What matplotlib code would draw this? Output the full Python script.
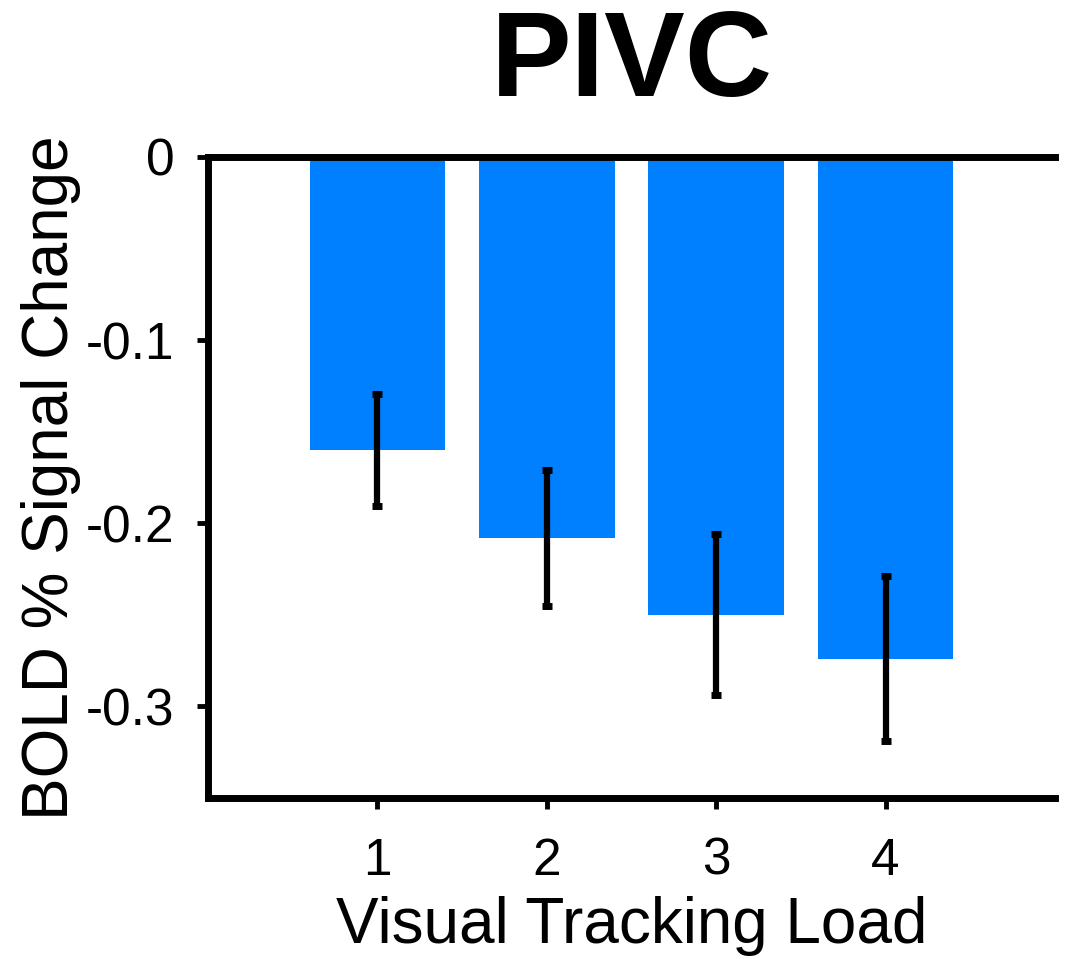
import matplotlib
matplotlib.use("Agg")
import matplotlib.pyplot as plt

# Mean BOLD response per tracking load, with error bars
loads = [1, 2, 3, 4]
tick_labels = ["1", "2", "3", "4"]
means = [-0.160, -0.208, -0.250, -0.274]
errors = [0.0305, 0.037, 0.044, 0.045]
yticks = [0, -0.1, -0.2, -0.3]
ytick_labels = ["0", "-0.1", "-0.2", "-0.3"]

plt.rcParams["font.family"] = ["Liberation Sans", "DejaVu Sans"]

fig = plt.figure(figsize=(10.68, 9.59), dpi=100)
ax = fig.add_axes([0.1948, 0.1679, 0.7930, 0.6684])

ax.bar(loads, means, width=0.8, color="#007FFF", zorder=1)
ax.errorbar(loads, means, yerr=errors, fmt="none", ecolor="black",
            elinewidth=4.5, capsize=3.3, capthick=5, zorder=3)

ax.set_xlim(0, 5)
ax.set_ylim(-0.35, 0)
ax.set_xticks(loads)
ax.set_xticklabels(tick_labels)
ax.set_yticks(yticks)
ax.set_yticklabels(ytick_labels)

for side in ("left", "bottom", "top"):
    ax.spines[side].set_linewidth(5)
ax.spines["right"].set_visible(False)

ax.tick_params(axis="both", direction="out", length=8, width=3.5,
               labelsize=37, top=False, right=False)
ax.tick_params(axis="y", pad=16)
ax.tick_params(axis="x", pad=20)

ax.set_xlabel("Visual Tracking Load", fontsize=46, labelpad=7)
ax.set_ylabel("BOLD % Signal Change", fontsize=46, labelpad=4)
ax.set_title("PIVC", fontsize=87, fontweight="bold", pad=44)

fig.savefig("out.png", dpi=100)
